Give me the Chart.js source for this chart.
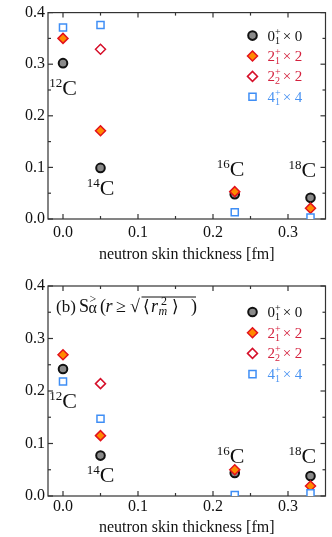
<!DOCTYPE html>
<html>
<head>
<meta charset="utf-8">
<script src="https://cdn.jsdelivr.net/npm/chart.js@4.4.0/dist/chart.umd.min.js"></script>
<style>
  html, body { margin: 0; padding: 0; background: #fff; }
  #wrap { position: relative; width: 332px; height: 537px; }
  canvas { position: absolute; left: 0; }
  #chartA { top: 0; }
  #chartB { top: 268px; }
</style>
</head>
<body>
<div id="wrap">
  <canvas id="chartA" width="332" height="268"></canvas>
  <canvas id="chartB" width="332" height="269"></canvas>
</div>
<script>
// carbon isotopes and their neutron skin thickness [fm]
const massNumbers = ["12", "14", "16", "18"];
const skinThickness = [0.0, 0.05, 0.229, 0.33];

const xTicks = [0.0, 0.1, 0.2, 0.3];
const xMinorTicks = [0.05, 0.15, 0.25];
const yTicks = [0.0, 0.1, 0.2, 0.3, 0.4];
const yMinorTicks = [0.05, 0.15, 0.25, 0.35];

// panel (a): S_alpha
const sa01 = [0.302, 0.099, 0.048, 0.041];
const sa21 = [0.350, 0.171, 0.053, 0.021];
const sa22 = [null, 0.329, null, null];
const sa41 = [0.371, 0.376, 0.013, 0.003];

// panel (b): S_alpha for r >= sqrt(<r_m^2>)
const sb01 = [0.242, 0.077, 0.044, 0.038];
const sb21 = [0.269, 0.115, 0.050, 0.019];
const sb22 = [null, 0.214, null, null];
const sb41 = [0.218, 0.147, 0.002, 0.005];

// legend text pieces: J, index, multiplier
const legendSpin = ["0", "2", "2", "4"];
const legendIndex = ["1", "1", "2", "1"];
const legendMult = ["0", "2", "2", "4"];

// where the isotope names sit (data units, text centre / baseline)
const isoLabelsA = [[0.0, 0.24], [0.05, 0.0457], [0.2234, 0.0825], [0.319, 0.082]];
const isoLabelsB = [[0.0, 0.167], [0.05, 0.0267], [0.2234, 0.0623], [0.319, 0.063]];

const SERIF = '"Liberation Serif", "DejaVu Serif", serif';

function fontStr(size, italic) {
  return (italic ? "italic " : "") + size + "px " + SERIF;
}

// draw a run of text pieces; keep:true stacks the next piece on the same x,
// at: fixed offset from the start of the run
function drawRich(ctx, segs, x, y, align) {
  let total = 0, stackW = 0;
  segs.forEach(s => {
    ctx.font = fontStr(s.size, s.italic);
    const w = ctx.measureText(s.t).width;
    s._w = w;
    if (s.keep) { stackW = Math.max(stackW, w); return; }
    total += Math.max(stackW, w) + (s.dx || 0);
    stackW = 0;
  });
  const x0 = align === "center" ? x - total / 2 : x;
  let cx = x0;
  stackW = 0;
  ctx.textBaseline = "alphabetic";
  ctx.textAlign = "left";
  segs.forEach(s => {
    if (s.at !== undefined) cx = x0 + s.at;
    ctx.font = fontStr(s.size, s.italic);
    ctx.fillStyle = s.color || ctx.fillStyle;
    ctx.fillText(s.t, cx, y + (s.dy || 0));
    if (s.keep) { stackW = Math.max(stackW, s._w); return; }
    cx += Math.max(stackW, s._w) + (s.dx || 0);
    stackW = 0;
  });
}

function scatterData(values) {
  return skinThickness.map((x, i) => ({ x: x, y: values[i] })).filter(p => p.y !== null);
}

function buildDatasets(v01, v21, v22, v41) {
  return [
    { data: scatterData(v01), pointStyle: "circle", pointRadius: 4.3,
      backgroundColor: "#8a8a8a", borderColor: "#111", borderWidth: 2, order: 3 },
    { data: scatterData(v21), pointStyle: "rectRot", pointRadius: 5,
      backgroundColor: "#ff8a00", borderColor: "#e3121c", borderWidth: 1.5, order: 2 },
    { data: scatterData(v22), pointStyle: "rectRot", pointRadius: 5,
      backgroundColor: "#fff", borderColor: "#d6102a", borderWidth: 1.5, order: 1 },
    { data: scatterData(v41), pointStyle: "rect", pointRadius: 5,
      backgroundColor: "#fff", borderColor: "#3f8ef5", borderWidth: 1.5, order: 0 }
  ];
}

const legendColors = ["#111", "#d4223e", "#d4223e", "#4a93f2"];

// frame + inward ticks on all four sides
const frameTicks = {
  id: "frameTicks",
  beforeDatasetsDraw(chart) {
    const { ctx, chartArea: a, scales: { x, y } } = chart;
    ctx.save();
    ctx.strokeStyle = "#333";
    ctx.lineWidth = 1.2;
    ctx.strokeRect(a.left, a.top, a.right - a.left, a.bottom - a.top);
    const seg = (x1, y1, x2, y2) => { ctx.beginPath(); ctx.moveTo(x1, y1); ctx.lineTo(x2, y2); ctx.stroke(); };
    const xt = (vals, len) => vals.forEach(v => {
      const p = x.getPixelForValue(v);
      seg(p, a.bottom, p, a.bottom - len);
      seg(p, a.top, p, a.top + len);
    });
    const yt = (vals, len) => vals.forEach(v => {
      const p = y.getPixelForValue(v);
      seg(a.left, p, a.left + len, p);
      seg(a.right, p, a.right - len, p);
    });
    xt(xTicks, 5); xt(xMinorTicks, 3);
    yt(yTicks, 5); yt(yMinorTicks, 3);
    ctx.restore();
  }
};

// titles, isotope names, legend
const deco = {
  id: "deco",
  afterDatasetsDraw(chart, args, o) {
    const { ctx, chartArea: a, scales: { x, y } } = chart;
    ctx.save();
    ctx.fillStyle = "#111";

    // panel title
    const tx0 = a.left + o.titleDx, ty0 = a.top + o.titleDy;
    drawRich(ctx, o.title, tx0, ty0, "left");
    if (o.overline) {
      ctx.strokeStyle = "#111";
      ctx.lineWidth = 1;
      ctx.beginPath();
      ctx.moveTo(tx0 + o.overline[0], ty0 - o.overline[2]);
      ctx.lineTo(tx0 + o.overline[1], ty0 - o.overline[2]);
      ctx.stroke();
    }

    // y axis title, rotated
    ctx.save();
    ctx.translate(o.yTitleX, (a.top + a.bottom) / 2 + o.yTitleDy);
    ctx.rotate(-Math.PI / 2);
    ctx.fillStyle = "#111";
    drawRich(ctx, o.yTitle, 0, 0, "center");
    ctx.restore();

    // isotope names
    o.isoLabels.forEach((p, i) => {
      ctx.fillStyle = "#111";
      drawRich(ctx, [
        { t: massNumbers[i], size: 13, dy: -8 },
        { t: "C", size: 22 }
      ], x.getPixelForValue(p[0]), y.getPixelForValue(p[1]), "center");
    });

    // legend
    const mx = a.right - 73, lx = a.right - 58;
    chart.data.datasets.forEach((ds, i) => {
      const cy = a.top + o.legendTop + i * o.legendGap;
      ctx.fillStyle = ds.backgroundColor;
      ctx.strokeStyle = ds.borderColor;
      ctx.lineWidth = ds.borderWidth;
      Chart.helpers.drawPoint(ctx, { pointStyle: ds.pointStyle, radius: ds.pointRadius,
        borderWidth: ds.borderWidth, rotation: 0 }, mx, cy);
      const c = legendColors[i];
      drawRich(ctx, [
        { t: legendSpin[i], size: 15, color: c },
        { t: "+", size: 10, dy: -6, keep: true, color: c },
        { t: legendIndex[i], size: 10, dy: 3, color: c, dx: 2 },
        { t: "× " + legendMult[i], size: 15, color: c }
      ], lx, cy + 5, "left");
    });
    ctx.restore();
  }
};

function makeChart(id, datasets, padTop, xHeight, tickPad, titlePadBottom, decoOpts) {
  return new Chart(document.getElementById(id), {
    type: "scatter",
    data: { datasets: datasets },
    options: {
      responsive: false,
      animation: false,
      layout: { padding: { top: padTop, right: 1, left: 0, bottom: 0 } },
      plugins: {
        legend: { display: false },
        tooltip: { enabled: false },
        deco: decoOpts
      },
      scales: {
        x: {
          type: "linear",
          min: -0.02,
          max: 0.35,
          afterBuildTicks: s => { s.ticks = xTicks.map(v => ({ value: v })); },
          afterFit: s => { s.height = xHeight; },
          grid: { display: false, drawTicks: false },
          border: { display: false },
          ticks: {
            autoSkip: false, maxRotation: 0, padding: tickPad, color: "#111",
            font: { family: SERIF, size: 16 },
            callback: v => v.toFixed(1)
          },
          title: {
            display: true, text: "neutron skin thickness [fm]", color: "#111",
            font: { family: SERIF, size: 16 },
            padding: { top: 0, bottom: titlePadBottom }
          }
        },
        y: {
          type: "linear",
          min: 0,
          max: 0.4,
          afterBuildTicks: s => { s.ticks = yTicks.map(v => ({ value: v })); },
          afterFit: s => { s.width = 48; },
          grid: { display: false, drawTicks: false },
          border: { display: false },
          ticks: {
            autoSkip: false, padding: 3, color: "#111",
            font: { family: SERIF, size: 16 },
            callback: v => v.toFixed(1)
          }
        }
      }
    },
    plugins: [frameTicks, deco]
  });
}

makeChart("chartA", buildDatasets(sa01, sa21, sa22, sa41), 9, 49, 4, 4, {
  title: [
    { t: "(a)", size: 17, dx: 9 },
    { t: "S", size: 18 },
    { t: "α", size: 18 }
  ],
  titleDx: 74, titleDy: 23,
  yTitle: [
    { t: "S", size: 20 },
    { t: "α", size: 18 }
  ],
  yTitleX: 15, yTitleDy: -14,
  isoLabels: isoLabelsA,
  legendTop: 23, legendGap: 20.4
});

makeChart("chartB", buildDatasets(sb01, sb21, sb22, sb41), 18, 41, 1, 0, {
  title: [
    { t: "(b)", size: 17, at: 0 },
    { t: "S", size: 18, at: 23 },
    { t: ">", size: 12, dy: -9, at: 33.5 },
    { t: "α", size: 16, dy: 1, at: 32.5 },
    { t: "(", size: 18, at: 44 },
    { t: "r", size: 18, italic: true, at: 49.5 },
    { t: "≥", size: 18, at: 60 },
    { t: "√", size: 18, at: 74 },
    { t: "⟨", size: 17, at: 87 },
    { t: "r", size: 18, italic: true, at: 95 },
    { t: "2", size: 12, dy: -7, at: 105 },
    { t: "m", size: 12, italic: true, dy: 3, at: 102.5 },
    { t: "⟩", size: 17, at: 116 },
    { t: ")", size: 18, at: 135 }
  ],
  overline: [85.5, 140, 15],
  titleDx: 8, titleDy: 26,
  yTitle: [
    { t: "S", size: 20 },
    { t: ">", size: 11, dy: -11, keep: true },
    { t: "α", size: 17, dy: 1 }
  ],
  yTitleX: 15, yTitleDy: -9,
  isoLabels: isoLabelsB,
  legendTop: 26, legendGap: 20.7
});
</script>
</body>
</html>
